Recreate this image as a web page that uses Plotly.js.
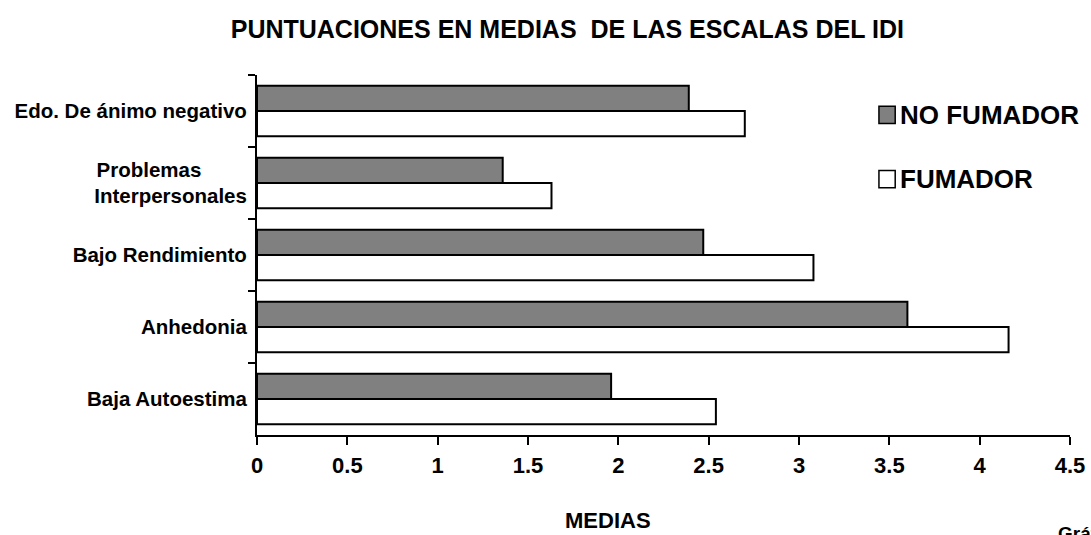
<!DOCTYPE html>
<html>
<head>
<meta charset="utf-8">
<script src="https://cdn.plot.ly/plotly-3.0.1.min.js"></script>
<style>
  html, body { margin: 0; padding: 0; background: #ffffff; }
  #chart { width: 1091px; height: 535px; }
</style>
</head>
<body>
<div id="chart"></div>
<script>
// Escalas del IDI, listed from top to bottom
var categories = [
  'Edo. De ánimo negativo',
  'Problemas\u00a0\u00a0\u00a0\u00a0\u00a0\u00a0\u00a0\u00a0<br>Interpersonales',
  'Bajo Rendimiento',
  'Anhedonia',
  'Baja Autoestima'
];
var noFumador = [2.39, 1.36, 2.47, 3.60, 1.96];
var fumador   = [2.70, 1.63, 3.08, 4.16, 2.54];
var seriesNames = ['NO FUMADOR', 'FUMADOR'];
var xTickValues = [0, 0.5, 1, 1.5, 2, 2.5, 3, 3.5, 4, 4.5];
var xTickLabels = ['0', '0.5', '1', '1.5', '2', '2.5', '3', '3.5', '4', '4.5'];

var GREY = '#808080';
var WHITE = '#ffffff';
var INK = '#000000';
var FONT = 'Liberation Sans, Arial, sans-serif';

var traces = [
  {
    type: 'bar', orientation: 'h', name: seriesNames[0],
    y: categories, x: noFumador,
    marker: { color: GREY, line: { color: INK, width: 2 } },
    showlegend: false, hoverinfo: 'x+name'
  },
  {
    type: 'bar', orientation: 'h', name: seriesNames[1],
    y: categories, x: fumador,
    marker: { color: WHITE, line: { color: INK, width: 2 } },
    showlegend: false, hoverinfo: 'x+name'
  }
];

// key drawn at the right of the plot: a swatch plus bold label per series
var keyColors = [GREY, WHITE];
var keyY = [0.889, 0.711];
var shapes = [];
var annotations = [];
seriesNames.forEach(function (name, i) {
  shapes.push({
    type: 'rect', xref: 'paper', yref: 'paper',
    x0: 0.765, x1: 0.785, y0: keyY[i] - 0.024, y1: keyY[i] + 0.024,
    fillcolor: keyColors[i], line: { color: INK, width: 1.5 }
  });
  annotations.push({
    xref: 'paper', yref: 'paper', x: 0.789, y: keyY[i],
    xanchor: 'left', yanchor: 'middle', showarrow: false,
    text: '<b>' + name + '</b>',
    font: { family: FONT, size: 26, color: INK }
  });
});
annotations.push({
  xref: 'paper', yref: 'paper', x: 0.432, y: -0.238,
  xanchor: 'center', yanchor: 'middle', showarrow: false,
  text: '<b>MEDIAS</b>', font: { family: FONT, size: 22, color: INK }
});
annotations.push({
  xref: 'paper', yref: 'paper', x: 0.983, y: -0.24,
  xanchor: 'left', yanchor: 'top', showarrow: false,
  text: '<b>Gráfico</b>', font: { family: FONT, size: 19, color: INK }
});

var layout = {
  width: 1091, height: 535,
  margin: { l: 257, r: 21, t: 75, b: 100 },
  paper_bgcolor: WHITE, plot_bgcolor: WHITE,
  font: { family: FONT, color: INK },
  title: {
    text: '<b>PUNTUACIONES EN MEDIAS&nbsp; DE LAS ESCALAS DEL IDI</b>',
    x: 0.52, xanchor: 'center', y: 0.945, yanchor: 'middle',
    font: { family: FONT, size: 25, color: INK }
  },
  barmode: 'group', bargap: 0.3, bargroupgap: 0,
  xaxis: {
    range: [0, 4.5], tickmode: 'array', tickvals: xTickValues, ticktext: xTickLabels,
    showgrid: false, zeroline: false, showline: true, linecolor: INK, linewidth: 2,
    ticks: 'outside', ticklen: 8, tickwidth: 2, tickcolor: INK,
    ticklabelstandoff: 2,
    tickfont: { family: FONT, size: 22, color: INK, weight: 'bold' }
  },
  yaxis: {
    type: 'category', autorange: 'reversed',
    showgrid: false, zeroline: false, showline: true, linecolor: INK, linewidth: 2,
    ticks: 'outside', tickson: 'boundaries', ticklen: 7, tickwidth: 2, tickcolor: INK,
    ticklabelstandoff: 4,
    tickfont: { family: FONT, size: 20.5, color: INK, weight: 'bold' }
  },
  shapes: shapes,
  annotations: annotations
};

Plotly.newPlot('chart', traces, layout, { displayModeBar: false, staticPlot: true });
</script>
</body>
</html>
